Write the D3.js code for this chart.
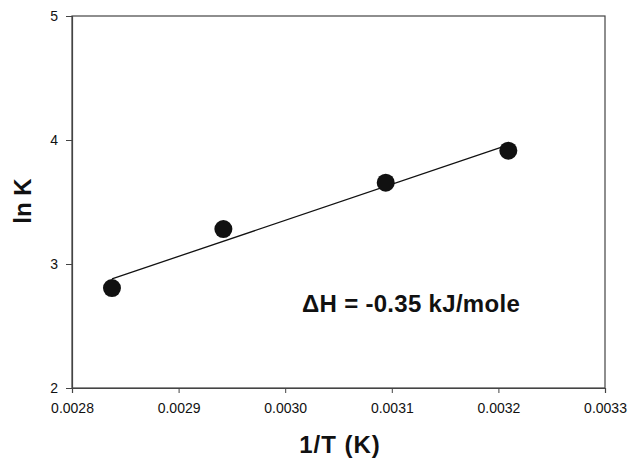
<!DOCTYPE html>
<html>
<head>
<meta charset="UTF-8">
<title>ln K vs 1/T</title>
<script src="https://cdnjs.cloudflare.com/ajax/libs/d3/7.8.5/d3.min.js"></script>
<style>
  body { margin: 0; background: #fff; }
  svg { display: block; font-family: "Liberation Sans", Arial, sans-serif; }
</style>
</head>
<body>
<svg id="chart" width="631" height="460"></svg>
<script>
// data
var invT = [0.0028375, 0.002942, 0.0030943, 0.0032093];
var lnK = [2.806, 3.282, 3.656, 3.914];
// fitted line end points
var fitX = [0.0028375, 0.0032093];
var fitY = [2.88, 3.96];
var xTicks = [0.0028, 0.0029, 0.0030, 0.0031, 0.0032, 0.0033];
var yTicks = [2, 3, 4, 5];

var svg = d3.select("#chart");
var plotL = 72, plotR = 605, plotT = 16, plotB = 388;

var x = d3.scaleLinear().domain([0.0028, 0.0033]).range([plotL, plotR]);
var y = d3.scaleLinear().domain([2, 5]).range([plotB, plotT]);

// frame
svg.append("rect")
  .attr("x", plotL).attr("y", plotT)
  .attr("width", plotR - plotL).attr("height", plotB - plotT)
  .attr("fill", "none").attr("stroke", "#444").attr("stroke-width", 1.2);

var xAxis = svg.append("g")
  .attr("transform", "translate(0," + plotB + ")")
  .call(d3.axisBottom(x).tickValues(xTicks).tickSize(5).tickPadding(10)
    .tickFormat(d3.format(".4f")));
var yAxis = svg.append("g")
  .attr("transform", "translate(" + plotL + ",0)")
  .call(d3.axisLeft(y).tickValues(yTicks).tickSize(6).tickPadding(8)
    .tickFormat(d3.format("d")));

[xAxis, yAxis].forEach(function(g) {
  g.select(".domain").attr("stroke", "#444").attr("stroke-width", 1.2);
  g.selectAll(".tick line").attr("stroke", "#444");
  g.selectAll("text").attr("fill", "#111").style("font-size", "14px")
    .style("font-family", "Liberation Sans, Arial, sans-serif");
});

// regression line
svg.append("line")
  .attr("x1", x(fitX[0])).attr("y1", y(fitY[0]))
  .attr("x2", x(fitX[1])).attr("y2", y(fitY[1]))
  .attr("stroke", "#111").attr("stroke-width", 1.3);

// points
svg.selectAll("circle.pt")
  .data(invT)
  .enter().append("circle")
  .attr("class", "pt")
  .attr("cx", function(d) { return x(d); })
  .attr("cy", function(d, i) { return y(lnK[i]); })
  .attr("r", 9)
  .attr("fill", "#111");

// annotation
svg.append("text")
  .attr("x", 302).attr("y", 312)
  .style("font-size", "24px").style("font-weight", "bold")
  .style("letter-spacing", "0.3px")
  .attr("fill", "#111")
  .text("\u0394H = -0.35 kJ/mole");

// axis titles
svg.append("text")
  .attr("x", 340).attr("y", 453)
  .attr("text-anchor", "middle")
  .style("font-size", "24px").style("font-weight", "bold")
  .style("letter-spacing", "1px")
  .attr("fill", "#111")
  .text("1/T (K)");

svg.append("text")
  .attr("transform", "translate(31,201) rotate(-90)")
  .attr("text-anchor", "middle")
  .style("font-size", "24px").style("font-weight", "bold")
  .attr("fill", "#111")
  .text("ln K");
</script>
</body>
</html>
